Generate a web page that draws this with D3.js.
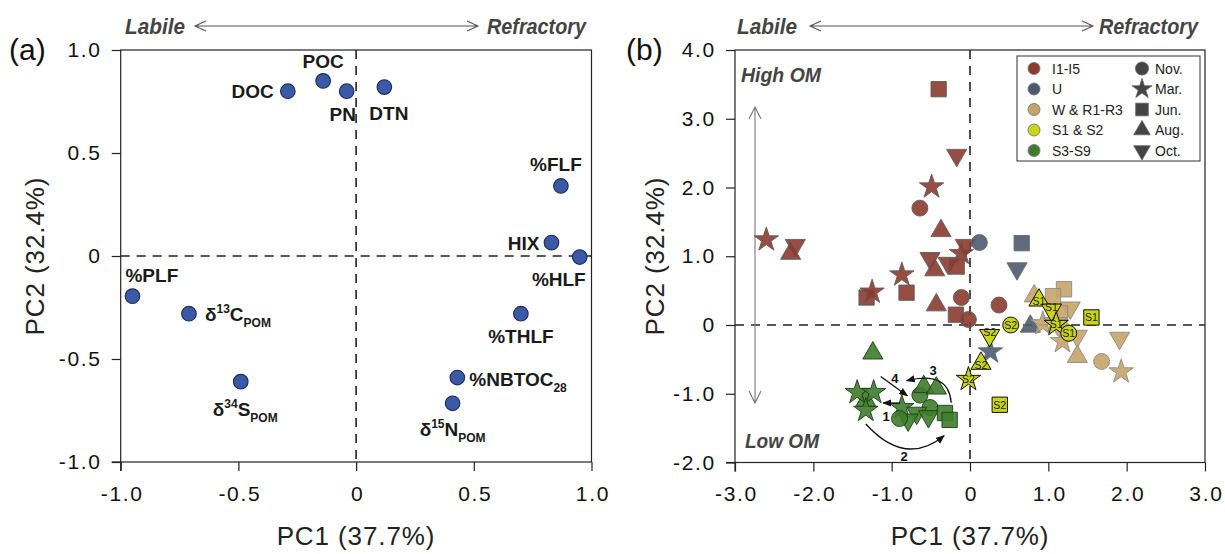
<!DOCTYPE html>
<html><head><meta charset="utf-8">
<script src="https://cdn.jsdelivr.net/npm/d3@7"></script>
<style>body{margin:0;background:#fff}svg{display:block;font-family:"Liberation Sans",Arial,sans-serif}</style>
</head><body><svg id="c" width="1225" height="554"></svg>
<script>
// ---------- DATA ----------
const loadingNames = ["DOC","POC","PN","DTN","%FLF","HIX","%HLF","%THLF","%NBTOC28","δ15N","%PLF","δ13C","δ34S"];
const loadingPC1   = [-0.29,-0.14,-0.04,0.12,0.87,0.83,0.95,0.70,0.43,0.41,-0.95,-0.71,-0.49];
const loadingPC2   = [0.80,0.85,0.80,0.82,0.34,0.065,-0.005,-0.28,-0.59,-0.715,-0.195,-0.28,-0.61];

const ticksA = [-1,-0.5,0,0.5,1];
const ticksBx = [-3,-2,-1,0,1,2,3];
const ticksBy = [-2,-1,0,1,2,3,4];

const groupNames = ["I1-I5","U","W & R1-R3","S1 & S2","S3-S9"];
const monthNames = ["Nov.","Mar.","Jun.","Aug.","Oct."];

// [PC1, PC2, month, label]
const scoresI = [
  [-0.40,3.43,"Jun."],[-0.17,2.47,"Oct."],[-0.49,2.01,"Mar."],[-0.64,1.70,"Nov."],
  [-0.37,1.37,"Aug."],[-2.60,1.24,"Mar."],[-2.23,1.16,"Oct."],[-2.29,1.04,"Aug."],
  [-0.06,1.16,"Oct."],[-0.11,1.04,"Mar."],[-0.51,0.97,"Oct."],[-0.28,0.90,"Oct."],
  [-0.17,0.85,"Jun."],[-0.45,0.80,"Aug."],[-0.87,0.73,"Mar."],[-1.32,0.40,"Jun."],
  [-1.25,0.48,"Mar."],[-0.81,0.47,"Jun."],[-0.11,0.40,"Nov."],[-0.43,0.29,"Aug."],
  [-0.18,0.15,"Jun."],[-0.02,0.08,"Nov."],[0.37,0.29,"Nov."]
];
const scoresU = [
  [0.12,1.20,"Nov."],[0.66,1.19,"Jun."],[0.60,0.82,"Oct."],[0.77,-0.02,"Aug."],[0.26,-0.39,"Mar."]
];
const scoresW = [
  [1.20,0.52,"Jun."],[1.06,0.42,"Jun."],[0.82,0.42,"Aug."],[1.28,0.25,"Oct."],[1.15,0.17,"Jun."],
  [0.93,0.02,"Mar."],[1.09,0.05,"Mar."],[1.19,-0.07,"Nov."],[1.37,-0.16,"Oct."],[1.18,-0.24,"Mar."],
  [1.37,-0.46,"Aug."],[1.68,-0.53,"Nov."],[1.93,-0.68,"Mar."],[1.91,-0.19,"Oct."]
];
const scoresS = [
  [0.88,0.36,"Aug.","S1"],[1.04,0.22,"Oct.","S1"],[1.10,0.01,"Mar.","S1"],[1.26,-0.12,"Nov.","S1"],
  [1.55,0.11,"Jun.","S1"],[0.52,0.00,"Nov.","S2"],[0.25,-0.15,"Oct.","S2"],[0.14,-0.56,"Aug.","S2"],
  [-0.02,-0.79,"Mar.","S2"],[0.38,-1.16,"Jun.","S2"]
];
const scoresG = [
  [-1.24,-0.41,"Aug."],[-1.33,-1.10,"Aug."],[-1.44,-0.98,"Mar."],[-1.23,-0.98,"Mar."],[-1.33,-1.24,"Mar."],
  [-0.64,-1.02,"Nov."],[-0.59,-0.90,"Aug."],[-0.43,-0.92,"Aug."],[-0.87,-1.20,"Mar."],
  [-0.51,-1.20,"Nov."],[-0.68,-1.28,"Oct."],[-0.53,-1.33,"Oct."],[-0.79,-1.38,"Oct."],
  [-0.90,-1.36,"Nov."],[-0.32,-1.28,"Jun."],[-0.26,-1.38,"Jun."]
];

// seasonal arrows in S3-S9 cluster
const trendArrows = [
  {n:"1", pts:[[-0.89,-1.135],[-1.11,-1.135]], lab:[-1.07,-1.33]},
  {n:"2", pts:[[-1.33,-1.44],[-0.83,-2.07],[-0.33,-1.61]], lab:[-0.84,-1.90]},
  {n:"3", pts:[[-0.24,-1.13],[-0.27,-0.66],[-0.81,-0.81]], lab:[-0.47,-0.66]},
  {n:"4", pts:[[-1.14,-0.75],[-0.80,-1.03]], lab:[-0.96,-0.77]}
];

// ---------- STYLE ----------
const groupColor = {"I1-I5":"#8b3a2e","U":"#4b5b6f","W & R1-R3":"#c8a468","S1 & S2":"#c9d512","S3-S9":"#3d7d2c"};
const groupStroke = {"I1-I5":"#5e5e5e","U":"#6a6a6a","W & R1-R3":"#8a8a8a","S1 & S2":"#111","S3-S9":"#1f3d15"};
const monthSym = {"Nov.":d3.symbolCircle,"Mar.":d3.symbolStar,"Jun.":d3.symbolSquare,"Aug.":d3.symbolTriangle,"Oct.":d3.symbolTriangle};
const monthSize = {"Nov.":200,"Mar.":185,"Jun.":235,"Aug.":175,"Oct.":175};
const monthRot = {"Nov.":0,"Mar.":0,"Jun.":0,"Aug.":0,"Oct.":180};

const svg = d3.select("#c");
svg.append("rect").attr("width",1225).attr("height",554).attr("fill","#fff");

const fmt = v => v===0 ? "0" : d3.format(".1f")(v).replace("\u2212","-");

function narrowText(g, x, y, s, size, len, anchor){
  return g.append("text").attr("x",x).attr("y",y).text(s).attr("text-anchor",anchor||"start")
    .attr("font-size",size).attr("font-weight","bold").attr("font-style","italic").attr("fill","#444")
    .attr("textLength",len).attr("lengthAdjust","spacingAndGlyphs");
}

function drawFrame(g, x, y, xt, yt){
  const [x0,x1] = x.range(), [y1,y0] = y.range();
  g.append("line").attr("x1",x(0)).attr("x2",x(0)).attr("y1",y0).attr("y2",y1)
    .attr("stroke","#222").attr("stroke-width",1.6).attr("stroke-dasharray","9,7");
  g.append("line").attr("x1",x0).attr("x2",x1).attr("y1",y(0)).attr("y2",y(0))
    .attr("stroke","#222").attr("stroke-width",1.6).attr("stroke-dasharray","9,7");
  g.append("rect").attr("x",x0).attr("y",y0).attr("width",x1-x0).attr("height",y1-y0)
    .attr("fill","none").attr("stroke","#222").attr("stroke-width",1.2);
  const ax = g.append("g").attr("transform",`translate(0,${y1})`)
    .call(d3.axisBottom(x).tickValues(xt).tickFormat(fmt).tickSize(9).tickSizeOuter(0).tickPadding(15));
  const ay = g.append("g").attr("transform",`translate(${x0},0)`)
    .call(d3.axisLeft(y).tickValues(yt).tickFormat(fmt).tickSize(9).tickSizeOuter(0).tickPadding(10));
  [ax,ay].forEach(a=>{
    a.select(".domain").remove();
    a.selectAll("line").attr("stroke","#222").attr("stroke-width",1.2);
    a.selectAll("text").attr("font-size",21).attr("letter-spacing","1.7px").attr("fill","#111")
      .attr("font-family","'Liberation Sans',Arial,sans-serif");
  });
  ax.selectAll("text").attr("dx","1px");
  g.append("line").attr("x1",x0-9).attr("x2",x0).attr("y1",y1).attr("y2",y1).attr("stroke","#222").attr("stroke-width",1.2);
  g.append("line").attr("x1",x0).attr("x2",x0).attr("y1",y1).attr("y2",y1+9).attr("stroke","#222").attr("stroke-width",1.2);
}

function header(g, xl, xr, y, ax1, ax2){
  narrowText(g, xl, y, "Labile", 22, 60, "start");
  narrowText(g, xr, y, "Refractory", 22, 99, "end");
  const yy = y-8;
  g.append("path").attr("d",`M${ax1},${yy}H${ax2}M${ax1+11},${yy-5}L${ax1},${yy}L${ax1+11},${yy+5}M${ax2-11},${yy-5}L${ax2},${yy}L${ax2-11},${yy+5}`)
    .attr("fill","none").attr("stroke","#555").attr("stroke-width",1.1);
}
function axisTitles(g, cx, yx){
  g.append("text").attr("x",cx).attr("y",545).attr("text-anchor","middle").text("PC1 (37.7%)")
    .attr("font-size",26).attr("letter-spacing","0.9px").attr("fill","#222");
  g.append("text").attr("transform",`translate(${yx},256) rotate(-90)`).attr("text-anchor","middle").text("PC2 (32.4%)")
    .attr("font-size",26).attr("letter-spacing","0.9px").attr("fill","#222");
}

// ---------- PANEL A ----------
const xA = d3.scaleLinear().domain([-1,1]).range([120.7,591.5]);
const yA = d3.scaleLinear().domain([-1,1]).range([462,50]);
const gA = svg.append("g");
drawFrame(gA, xA, yA, ticksA, ticksA);
header(gA, 125, 586, 34, 195, 478);
gA.append("text").attr("x",9).attr("y",60).text("(a)").attr("font-size",30).attr("fill","#111");
axisTitles(gA, 356, 44);

gA.selectAll("circle.ld").data(loadingNames).join("circle").attr("class","ld")
  .attr("cx",(d,i)=>xA(loadingPC1[i])).attr("cy",(d,i)=>yA(loadingPC2[i])).attr("r",7.3)
  .attr("fill","#3a5aa8").attr("stroke","#1d2a55").attr("stroke-width",1.1);

// label placement: [dx, dy, anchor]
const labelPlace = {
  "DOC":[-14,7,"end"],"POC":[0,-13,"middle"],"PN":[-4,30,"middle"],"DTN":[-15,33,"start"],
  "%FLF":[-5,-15,"middle"],"HIX":[-12,7,"end"],"%HLF":[6,29,"end"],"%THLF":[0,29,"middle"],
  "%NBTOC28":[12,8,"start"],"δ15N":[0,33,"middle"],"%PLF":[-7,-14,"start"],"δ13C":[16,7,"start"],"δ34S":[-28,34,"start"]
};
const labelParts = {
  "%NBTOC28":[["%NBTOC",0],["28",1]],
  "δ15N":[["δ",0],["15",2],["N",0],["POM",1]],
  "δ13C":[["δ",0],["13",2],["C",0],["POM",1]],
  "δ34S":[["δ",0],["34",2],["S",0],["POM",1]]
};
loadingNames.forEach((n,i)=>{
  const [dx,dy,anc] = labelPlace[n];
  const t = gA.append("text").attr("x",xA(loadingPC1[i])+dx).attr("y",yA(loadingPC2[i])+dy)
    .attr("text-anchor",anc).attr("font-size",19).attr("font-weight","bold").attr("fill","#1a1a1a");
  const parts = labelParts[n] || [[n,0]];
  let shift = 0;
  parts.forEach(([s,k])=>{
    const target = k===1 ? 6 : (k===2 ? -8 : 0);
    t.append("tspan").text(s).attr("dy",target-shift).attr("font-size",k?12:19);
    shift = target;
  });
});

// ---------- PANEL B ----------
const xB = d3.scaleLinear().domain([-3,3]).range([735,1205]);
const yB = d3.scaleLinear().domain([-2,4]).range([462.5,50]);
const gB = svg.append("g");
drawFrame(gB, xB, yB, ticksBx, ticksBy);
header(gB, 737, 1198, 34, 810, 1093);
gB.append("text").attr("x",626).attr("y",60).text("(b)").attr("font-size",30).attr("fill","#111");
axisTitles(gB, 970, 664);

narrowText(gB, 741, 82, "High OM", 21, 80, "start");
narrowText(gB, 745, 448, "Low OM", 21, 74, "start");
gB.append("path").attr("d","M755,107V403M749,119L755,107L761,119M749,391L755,403L761,391")
  .attr("fill","none").attr("stroke","#777").attr("stroke-width",1.1);

const sym = (m) => d3.symbol().type(monthSym[m]).size(monthSize[m])();
function drawScores(data, grp){
  const sel = gB.append("g").selectAll("g").data(data).join("g")
    .attr("transform",d=>`translate(${xB(d[0])},${yB(d[1])}) rotate(${monthRot[d[2]]})`);
  sel.append("path").attr("d",d=>sym(d[2]))
    .attr("fill",groupColor[grp]).attr("fill-opacity",grp==="S1 & S2"?1:0.9)
    .attr("stroke",groupStroke[grp]).attr("stroke-width",grp==="S1 & S2"?1:0.9);
  if(grp==="S1 & S2"){
    gB.append("g").selectAll("text").data(data).join("text")
      .attr("x",d=>xB(d[0])).attr("y",d=>yB(d[1])+ (d[2]==="Oct."? 1 : (d[2]==="Aug."?5:4)))
      .attr("text-anchor","middle").attr("font-size",10.5).attr("fill","#222").text(d=>d[3]);
  }
}
drawScores(scoresI,"I1-I5");
drawScores(scoresU,"U");
drawScores(scoresW,"W & R1-R3");
drawScores(scoresS,"S1 & S2");
drawScores(scoresG,"S3-S9");

// arrows
const defs = svg.append("defs");
defs.append("marker").attr("id","ah").attr("viewBox","0 0 10 10").attr("refX",9).attr("refY",5)
  .attr("markerWidth",7).attr("markerHeight",7).attr("orient","auto")
  .append("path").attr("d","M0,1L10,5L0,9Z").attr("fill","#111");
trendArrows.forEach(a=>{
  const p = a.pts.map(q=>[xB(q[0]),yB(q[1])]);
  const d = p.length===2 ? `M${p[0]}L${p[1]}` : `M${p[0]}Q${p[1]} ${p[2]}`;
  gB.append("path").attr("d",d).attr("fill","none").attr("stroke","#111").attr("stroke-width",1.3).attr("marker-end","url(#ah)");
  gB.append("text").attr("x",xB(a.lab[0])).attr("y",yB(a.lab[1])+5).attr("text-anchor","middle")
    .attr("font-size",13).attr("font-weight","bold").attr("fill","#111").text(a.n);
});

// legend
const lg = gB.append("g");
lg.append("rect").attr("x",1017).attr("y",56).attr("width",183).attr("height",105)
  .attr("fill","#fff").attr("stroke","#333").attr("stroke-width",1);
groupNames.forEach((g,i)=>{
  const yy = 68.5 + i*20.5;
  lg.append("circle").attr("cx",1034).attr("cy",yy).attr("r",6)
    .attr("fill",groupColor[g]).attr("stroke","#777").attr("stroke-width",0.9);
  lg.append("text").attr("x",1052).attr("y",yy+5).text(g).attr("font-size",14).attr("fill","#222");
});
monthNames.forEach((m,i)=>{
  const yy = 68.5 + i*20.5;
  lg.append("path").attr("transform",`translate(1142,${yy}) rotate(${monthRot[m]})`)
    .attr("d",d3.symbol().type(monthSym[m]).size(monthSize[m]*0.68)())
    .attr("fill","#444").attr("stroke","#666").attr("stroke-width",0.8);
  lg.append("text").attr("x",1155).attr("y",yy+5).text(m).attr("font-size",14).attr("fill","#222");
});
</script></body></html>
